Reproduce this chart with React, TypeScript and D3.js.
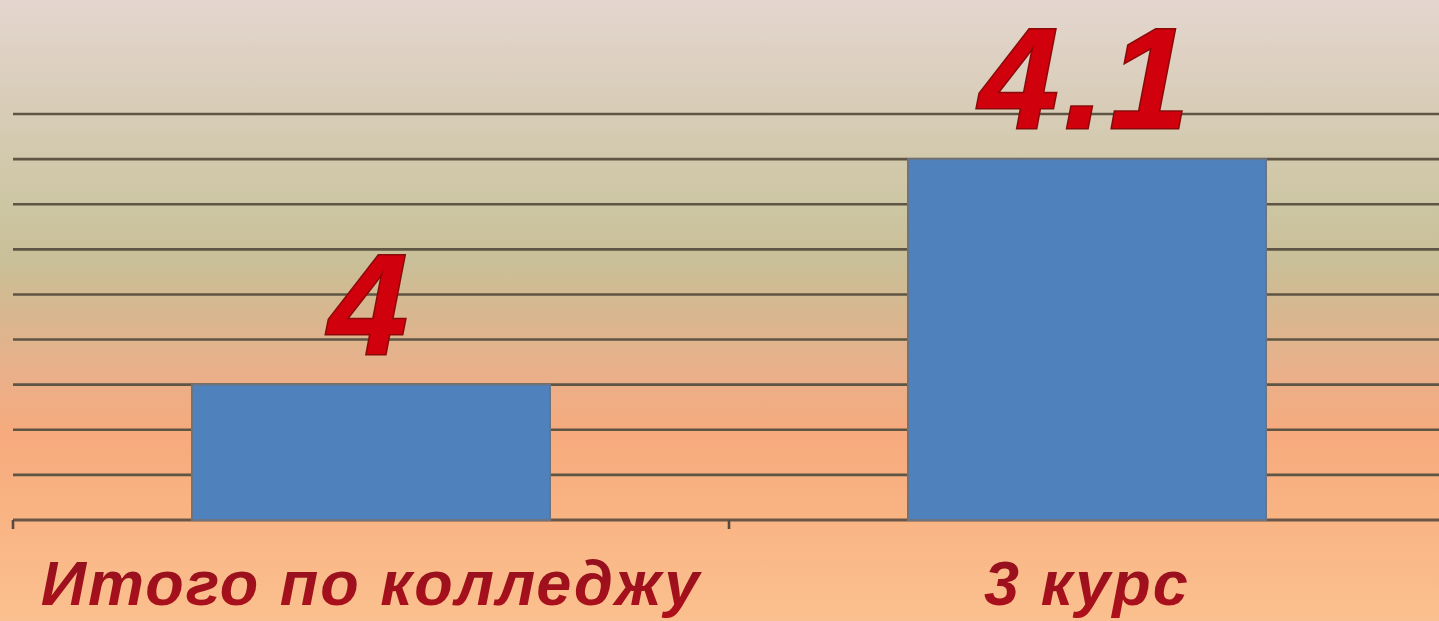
import * as d3 from "d3";

const WIDTH = 1439;
const HEIGHT = 621;

// data
const categories = ["Итого по колледжу", "3 курс"];
const values = [4, 4.1];
const valueLabels = ["4", "4.1"];
const yDomain = [3.94, 4.12];
const gridTicks = [3.94, 3.96, 3.98, 4.0, 4.02, 4.04, 4.06, 4.08, 4.1, 4.12];

const bgStops = [
  { offset: 0, color: "#e4d6cf" },
  { offset: 0.16, color: "#d9cdb9" },
  { offset: 0.33, color: "#cdc6a3" },
  { offset: 0.42, color: "#c9bf98" },
  { offset: 0.5, color: "#d7b78f" },
  { offset: 0.6, color: "#e9b08a" },
  { offset: 0.7, color: "#f7aa7d" },
  { offset: 0.82, color: "#f9b383" },
  { offset: 1, color: "#fbc08f" },
];

const MARGIN = { left: 13, right: -6, top: 114, bottom: 101 };

export default function App() {
  const xScale = d3
    .scaleBand()
    .domain(categories)
    .range([MARGIN.left, WIDTH - MARGIN.right])
    .padding(0);

  const yScale = d3
    .scaleLinear()
    .domain(yDomain)
    .range([HEIGHT - MARGIN.bottom, MARGIN.top]);

  const barW = xScale.bandwidth() * 0.5;
  const baseY = yScale(yDomain[0]);

  return (
    <svg
      width={WIDTH}
      height={HEIGHT}
      style={{ position: "absolute", left: 0, top: 0, display: "block" }}
    >
      <defs>
        <linearGradient id="bg" x1="0" y1="0" x2="0" y2="1">
          {bgStops.map((s, i) => (
            <stop key={i} offset={s.offset} stopColor={s.color} />
          ))}
        </linearGradient>
        <linearGradient id="catText" x1="0" y1="0" x2="0" y2="1">
          <stop offset={0} stopColor="#8e1020" />
          <stop offset={1} stopColor="#b0101a" />
        </linearGradient>
        <filter id="soft" x="-5%" y="-50%" width="110%" height="300%">
          <feGaussianBlur stdDeviation="0.7" />
        </filter>
      </defs>

      <rect x={0} y={0} width={WIDTH} height={HEIGHT} fill="url(#bg)" />

      {/* grid lines */}
      <g filter="url(#soft)">
        {gridTicks.slice(1).map((t, i) => (
          <line
            key={i}
            x1={MARGIN.left}
            x2={WIDTH}
            y1={yScale(t)}
            y2={yScale(t)}
            stroke="#5e5445"
            strokeWidth={2.6}
          />
        ))}
        {/* x axis */}
        <line
          x1={MARGIN.left}
          x2={WIDTH}
          y1={baseY}
          y2={baseY}
          stroke="#6a5646"
          strokeWidth={2.8}
        />
        {categories.map((c, i) => {
          const x = xScale(c) ?? 0;
          return (
            <line
              key={i}
              x1={x}
              x2={x}
              y1={baseY}
              y2={baseY + 9}
              stroke="#5a4a3e"
              strokeWidth={2.6}
            />
          );
        })}
      </g>

      {/* bars */}
      {categories.map((c, i) => {
        const cx = (xScale(c) ?? 0) + xScale.bandwidth() / 2;
        const y = yScale(values[i]);
        return (
          <rect
            key={c}
            x={cx - barW / 2}
            y={y}
            width={barW}
            height={baseY - y}
            fill="#4f81bd"
            stroke="#6a7482"
            strokeWidth={2}
          />
        );
      })}

      {/* value labels */}
      {categories.map((c, i) => {
        const cx = (xScale(c) ?? 0) + xScale.bandwidth() / 2;
        const y = yScale(values[i]);
        return (
          <text
            key={c}
            x={cx}
            y={y - 31}
            textAnchor="middle"
            fontFamily="'Liberation Sans', Arial, sans-serif"
            fontWeight="bold"
            fontStyle="italic"
            fontSize={142}
            letterSpacing={6}
            fill="#d0000c"
            stroke="#8a0a0a"
            strokeWidth={3}
            paintOrder="stroke"
          >
            {valueLabels[i]}
          </text>
        );
      })}

      {/* category labels */}
      {categories.map((c) => {
        const cx = (xScale(c) ?? 0) + xScale.bandwidth() / 2;
        return (
          <text
            key={c}
            x={cx}
            y={605}
            textAnchor="middle"
            fontFamily="'Liberation Sans', Arial, sans-serif"
            fontWeight="bold"
            fontStyle="italic"
            fontSize={63}
            letterSpacing={2}
            fill="url(#catText)"
          >
            {c}
          </text>
        );
      })}
    </svg>
  );
}
